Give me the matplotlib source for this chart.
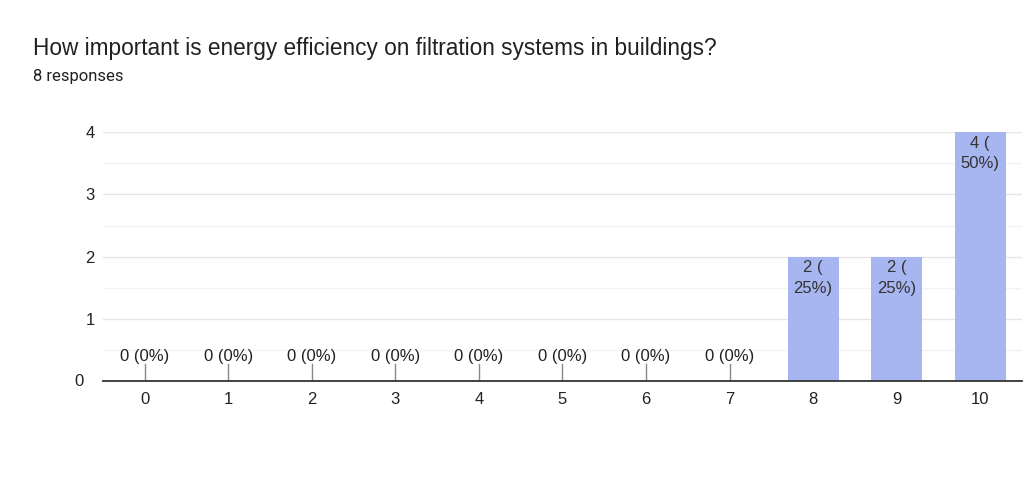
import matplotlib
matplotlib.use("Agg")
import matplotlib.pyplot as plt
from matplotlib.transforms import ScaledTranslation

categories = ["0", "1", "2", "3", "4", "5", "6", "7", "8", "9", "10"]
counts = [0, 0, 0, 0, 0, 0, 0, 0, 2, 2, 4]
total = 8
y_ticks = [0, 1, 2, 3, 4]
title = "How important is energy efficiency on filtration systems in buildings?"
subtitle = "8 responses"

plt.rcParams['font.family'] = ['Liberation Sans', 'DejaVu Sans']

fig = plt.figure(figsize=(10.24, 4.86), dpi=100)
ax = fig.add_axes([0.1006, 0.216, 0.8974, 0.512])

bar_color = "#a7b6f0"
xs = list(range(len(categories)))
ax.bar(xs, counts, width=0.61, color=bar_color, zorder=3)

ax.set_xlim(-0.5, len(categories) - 0.5)
ax.set_ylim(0, 4)
ax.set_yticks(y_ticks)
ax.set_yticklabels([""] + [str(v) for v in y_ticks[1:]])
ax.set_yticks([0.5, 1.5, 2.5, 3.5], minor=True)
ax.set_xticks(xs)
ax.set_xticklabels(categories)
ax.grid(axis='y', which='major', color='#e6e6e6', linewidth=1, zorder=0)
ax.grid(axis='y', which='minor', color='#f3f3f3', linewidth=1, zorder=0)
ax.tick_params(axis='both', which='both', length=0, labelsize=12, colors='#222222')
ax.tick_params(axis='x', pad=8)
ax.tick_params(axis='y', pad=6)
for s in ['top', 'right', 'left']:
    ax.spines[s].set_visible(False)
ax.spines['bottom'].set_color('#333333')
ax.spines['bottom'].set_linewidth(1.3)
ax.spines['bottom'].set_zorder(5)

# the zero label sits further left in the reference
ax.text(0, y_ticks[0], str(y_ticks[0]), fontsize=12, color='#222222',
        ha='right', va='center',
        transform=ax.get_yaxis_transform() + ScaledTranslation(-0.19, 0, fig.dpi_scale_trans))

for x, c in zip(xs, counts):
    pct = round(c / total * 100)
    if c == 0:
        ax.plot([x, x], [0, 0.27], color='#888888', linewidth=1, zorder=4)
        ax.text(x, 0.4, f"{c} ({pct}%)", ha='center', va='center',
                fontsize=12, color='#222222', zorder=6)
    else:
        ax.text(x, c - 0.06, f"{c} (\n{pct}%)", ha='center', va='top',
                fontsize=12, color='#333333', linespacing=1.45, zorder=6)

fig.text(33 / 1024, 1 - 48 / 486, title, fontsize=16.3, color='#202124',
         ha='left', va='center')
fig.text(33 / 1024, 1 - 77 / 486, subtitle, fontsize=12, color='#202124',
         ha='left', va='center', family=['Roboto', 'DejaVu Sans'])

fig.savefig("out.png", dpi=100)
